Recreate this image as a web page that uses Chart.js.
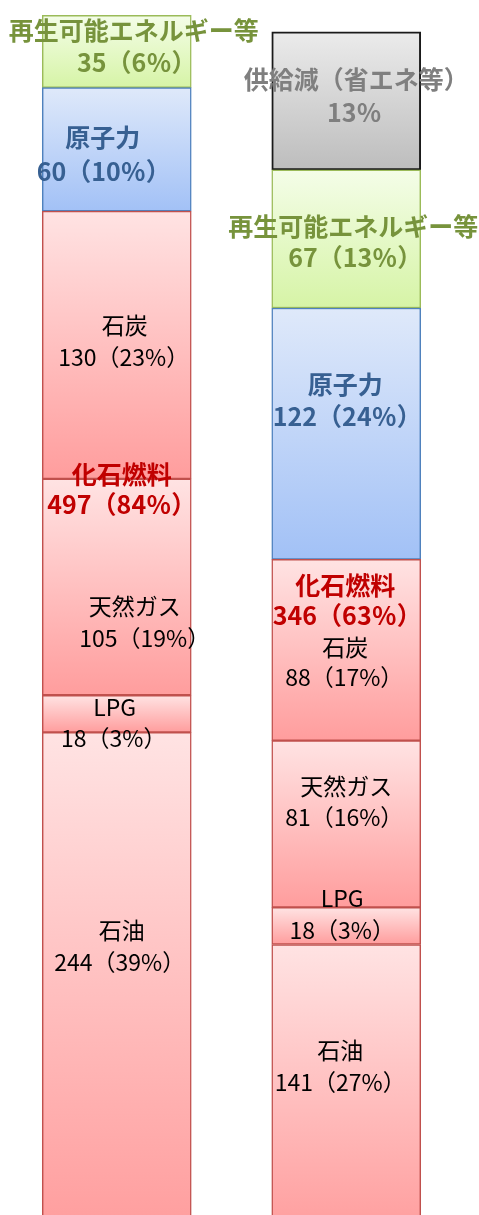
<!DOCTYPE html>
<html lang="ja">
<head>
<meta charset="utf-8">
<script src="https://cdn.jsdelivr.net/npm/chart.js@4.4.1/dist/chart.umd.min.js"></script>
<style>
  body { margin: 0; background: #fff; }
  #wrap { width: 479px; height: 1215px; position: relative; }
</style>
</head>
<body>
<div id="wrap"><canvas id="myChart"></canvas></div>
<script>
// 一次エネルギー供給の内訳（左：現状、右：将来）
const labels = ['現状', '将来'];

const oil = [244, 141];
const lpg = [18, 18];
const gas = [105, 81];
const coal = [130, 88];
const nuclear = [60, 122];
const renewable = [35, 67];
const reduction = [null, 67];

// 構成比（%）
const oilShare = [39, 27];
const lpgShare = [3, 3];
const gasShare = [19, 16];
const coalShare = [23, 17];
const nuclearShare = [10, 24];
const renewableShare = [6, 13];
const reductionShare = [null, 13];

// 化石燃料の小計
const fossil = [497, 346];
const fossilShare = [84, 63];

const FONT = "'Noto Sans CJK JP', 'Noto Sans', sans-serif";
const RED = '#C00000', GREEN = '#77933C', BLUE = '#376092', GRAY = '#7F7F7F', BLACK = '#000000';

// 各セグメントを上から下へのグラデーションで塗る
function segmentGradient(top, bottom) {
    return function (context) {
        const chart = context.chart;
        const y = chart.scales.y;
        if (!y || context.type !== 'data') return top;
        const ds = context.datasetIndex, i = context.dataIndex;
        let start = 0;
        for (let d = 0; d < ds; d++) start += chart.data.datasets[d].data[i] || 0;
        const end = start + (chart.data.datasets[ds].data[i] || 0);
        const y0 = y.getPixelForValue(end), y1 = y.getPixelForValue(start);
        if (!isFinite(y0) || !isFinite(y1) || y0 === y1) return top;
        const g = chart.ctx.createLinearGradient(0, y0, 0, y1);
        g.addColorStop(0, top);
        g.addColorStop(1, bottom);
        return g;
    };
}

function pinkSet(label, data) {
    return {
        label: label,
        data: data,
        backgroundColor: segmentGradient('#FFE3E3', '#FF9D9D'),
        borderColor: '#C0504D',
        borderWidth: 1.5,
        borderSkipped: false
    };
}

const datasets = [
    pinkSet('石油', oil),
    pinkSet('LPG', lpg),
    pinkSet('天然ガス', gas),
    pinkSet('石炭', coal),
    {
        label: '原子力',
        data: nuclear,
        backgroundColor: segmentGradient('#DFE9FA', '#A2C1F6'),
        borderColor: '#4F81BD',
        borderWidth: 1.5,
        borderSkipped: false
    },
    {
        label: '再生可能エネルギー等',
        data: renewable,
        backgroundColor: segmentGradient('#F4FDE8', '#D6F4A6'),
        borderColor: '#9BBB59',
        borderWidth: 1.5,
        borderSkipped: false
    },
    {
        label: '供給減（省エネ等）',
        data: reduction,
        backgroundColor: segmentGradient('#EBEBEB', '#BDBDBD'),
        borderColor: '#1A1A1A',
        borderWidth: 2,
        borderSkipped: false
    }
];

const bold = '700 25px ' + FONT;
const normal = '400 23px ' + FONT;

// 文字の配置：ds=データセット, i=棒, 各行 [文字, dx, dy]（dyはセグメント上端から）
const textBlocks = [
    // 現状
    { ds: 5, i: 0, font: bold, color: GREEN, lines: [['再生可能エネルギー等', 17, 15], [renewable[0] + '（' + renewableShare[0] + '％）', 20, 47]] },
    { ds: 4, i: 0, font: bold, color: BLUE, lines: [['原子力', -14, 50], [nuclear[0] + '（' + nuclearShare[0] + '％）', -13, 84]] },
    { ds: 3, i: 0, font: normal, color: BLACK, lines: [['石炭', 8, 114], [coal[0] + '（' + coalShare[0] + '%）', 7, 146]] },
    { ds: 2, i: 0, font: normal, color: BLACK, lines: [['天然ガス', 18, 127], [gas[0] + '（' + gasShare[0] + '%）', 28, 159]] },
    { ds: 2, i: 0, font: bold, color: RED, lines: [['化石燃料', 5, -4], [fossil[0] + '（' + fossilShare[0] + '％）', 5, 26]] },
    { ds: 1, i: 0, font: normal, color: BLACK, lines: [['LPG', -2, 12], [lpg[0] + '（' + lpgShare[0] + '%）', -3, 43]] },
    { ds: 0, i: 0, font: normal, color: BLACK, lines: [['石油', 5, 198], [oil[0] + '（' + oilShare[0] + '%）', 3, 230]] },
    // 将来
    { ds: 6, i: 1, font: bold, color: GRAY, lines: [['供給減（省エネ等）', 10, 48], [reductionShare[1] + '％', 8, 81]] },
    { ds: 5, i: 1, font: bold, color: GREEN, lines: [['再生可能エネルギー等', 7, 57], [renewable[1] + '（' + renewableShare[1] + '％）', 9, 88]] },
    { ds: 4, i: 1, font: bold, color: BLUE, lines: [['原子力', -1, 77], [nuclear[1] + '（' + nuclearShare[1] + '％）', 1, 109]] },
    { ds: 3, i: 1, font: bold, color: RED, lines: [['化石燃料', -1, 26], [fossil[1] + '（' + fossilShare[1] + '％）', 1, 56]] },
    { ds: 3, i: 1, font: normal, color: BLACK, lines: [['石炭', -1, 88], [coal[1] + '（' + coalShare[1] + '%）', -2, 118]] },
    { ds: 2, i: 1, font: normal, color: BLACK, lines: [['天然ガス', 0, 46], [gas[1] + '（' + gasShare[1] + '%）', -2, 77]] },
    { ds: 1, i: 1, font: normal, color: BLACK, lines: [['LPG', -4, -9], [lpg[1] + '（' + lpgShare[1] + '%）', -4, 23]] },
    { ds: 0, i: 1, font: normal, color: BLACK, lines: [['石油', -6, 106], [oil[1] + '（' + oilShare[1] + '%）', -6, 138]] }
];

const segmentText = {
    id: 'segmentText',
    afterDatasetsDraw(chart) {
        const ctx = chart.ctx;
        ctx.save();
        ctx.textAlign = 'center';
        ctx.textBaseline = 'middle';
        textBlocks.forEach(function (b) {
            const bar = chart.getDatasetMeta(b.ds).data[b.i];
            if (!bar) return;
            const p = bar.getProps(['x', 'y'], true);
            ctx.font = b.font;
            ctx.fillStyle = b.color;
            b.lines.forEach(function (l) {
                ctx.fillText(l[0], p.x + l[1], p.y + l[2]);
            });
        });
        ctx.restore();
    }
};

const ctx = document.getElementById('myChart');
var mychart = new Chart(ctx, {
    type: 'bar',
    data: {
        labels: labels,
        datasets: datasets
    },
    options: {
        responsive: true,
        maintainAspectRatio: false,
        animation: false,
        events: [],
        layout: { padding: { left: 2, right: 18, top: 0, bottom: 0 } },
        datasets: { bar: { barThickness: 149 } },
        plugins: {
            legend: { display: false },
            tooltip: { enabled: false }
        },
        scales: {
            x: { stacked: true, display: false },
            y: { stacked: true, display: false, min: 9.7, max: 599.5 }
        }
    },
    plugins: [segmentText]
});
</script>
</body>
</html>
